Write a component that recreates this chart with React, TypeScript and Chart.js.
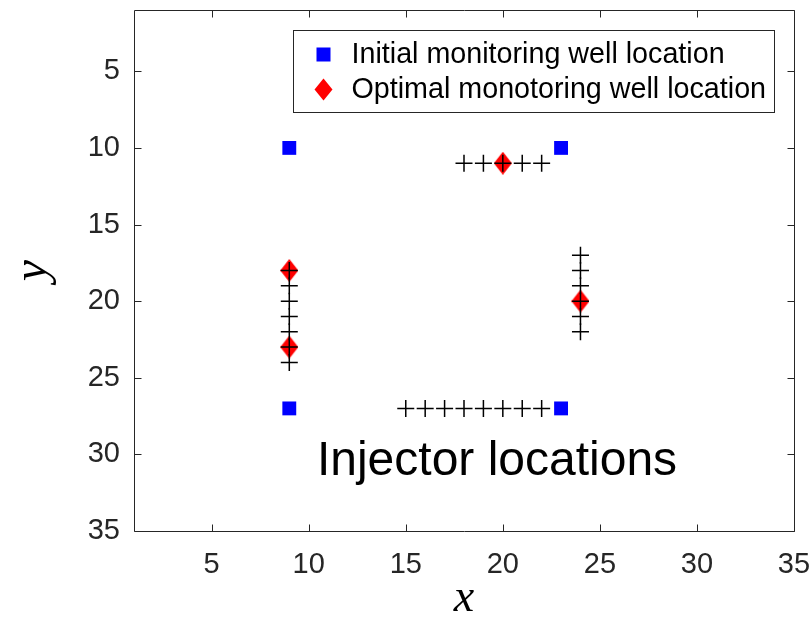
import React, { useEffect, useRef } from "react";
import { Chart, registerables } from "chart.js";

Chart.register(...registerables);

// Axis setup (both axes span 1..35, y grows downward)
const axisMin = 1;
const axisMax = 35;
const xTickValues = [5, 10, 15, 20, 25, 30, 35];
const yTickValues = [5, 10, 15, 20, 25, 30, 35];

// Initial monitoring wells
const initialX = [9, 23, 9, 23];
const initialY = [10, 10, 27, 27];

// Optimal monitoring wells
const optimalX = [20, 9, 9, 24];
const optimalY = [11, 18, 23, 20];

// Injector wells
const injectorX = [
  18, 19, 20, 21, 22,
  9, 9, 9, 9, 9, 9, 9,
  24, 24, 24, 24, 24, 24,
  15, 16, 17, 18, 19, 20, 21, 22,
];
const injectorY = [
  11, 11, 11, 11, 11,
  18, 19, 20, 21, 22, 23, 24,
  17, 18, 19, 20, 21, 22,
  27, 27, 27, 27, 27, 27, 27, 27,
];

const legendLabels = [
  "Initial monitoring well location",
  "Optimal monotoring well location",
];
const annotationText = "Injector locations";
const annotationAt = { x: 19.7, y: 30.5 };

const AXIS_COLOR = "#262626";
const SANS = "'Liberation Sans', Arial, Helvetica, sans-serif";
const SERIF = "'Liberation Serif', 'Times New Roman', serif";
const BLUE = "#0000ff";
const RED = "#ff0000";

function toPoints(xs: number[], ys: number[]) {
  return xs.map((x, i) => ({ x, y: ys[i] }));
}

function makeDiamond(w: number, h: number, color: string) {
  const c = document.createElement("canvas");
  c.width = w;
  c.height = h;
  const g = c.getContext("2d")!;
  g.fillStyle = color;
  g.beginPath();
  g.moveTo(w / 2, 0);
  g.lineTo(w, h / 2);
  g.lineTo(w / 2, h);
  g.lineTo(0, h / 2);
  g.closePath();
  g.fill();
  return c;
}

// Axes box with inward ticks, the inset legend and the text label
const decorations = {
  id: "decorations",
  afterDraw(chart: any) {
    const { ctx, chartArea, scales } = chart;
    const { left, right, top, bottom } = chartArea;
    const xs = scales.x;
    const ys = scales.y;
    const tickLen = 7;

    ctx.save();
    ctx.strokeStyle = AXIS_COLOR;
    ctx.lineWidth = 1;
    const L = Math.round(left) + 0.5;
    const R = Math.round(right) + 0.5;
    const T = Math.round(top) + 0.5;
    const B = Math.round(bottom) + 0.5;
    ctx.beginPath();
    ctx.rect(L, T, R - L, B - T);
    ctx.stroke();

    ctx.beginPath();
    for (const v of xTickValues) {
      const px = Math.round(xs.getPixelForValue(v)) + 0.5;
      ctx.moveTo(px, B);
      ctx.lineTo(px, B - tickLen);
      ctx.moveTo(px, T);
      ctx.lineTo(px, T + tickLen);
    }
    for (const v of yTickValues) {
      const py = Math.round(ys.getPixelForValue(v)) + 0.5;
      ctx.moveTo(L, py);
      ctx.lineTo(L + tickLen, py);
      ctx.moveTo(R, py);
      ctx.lineTo(R - tickLen, py);
    }
    ctx.stroke();

    // annotation text
    ctx.fillStyle = "#000";
    ctx.font = `48px ${SANS}`;
    ctx.textAlign = "center";
    ctx.textBaseline = "middle";
    ctx.fillText(
      annotationText,
      xs.getPixelForValue(annotationAt.x),
      ys.getPixelForValue(annotationAt.y)
    );

    // legend box
    const bx = Math.round(left + 159) + 0.5;
    const by = Math.round(top + 20) + 0.5;
    const bw = 481;
    const bh = 82;
    ctx.fillStyle = "#fff";
    ctx.fillRect(bx, by, bw, bh);
    ctx.strokeStyle = AXIS_COLOR;
    ctx.strokeRect(bx, by, bw, bh);

    const markerX = bx + 30;
    const textX = bx + 58;
    const row1 = by + 24;
    const row2 = by + 59;

    ctx.fillStyle = BLUE;
    ctx.fillRect(markerX - 7, row1 - 7, 14, 14);

    ctx.fillStyle = RED;
    ctx.beginPath();
    ctx.moveTo(markerX, row2 - 11);
    ctx.lineTo(markerX + 9, row2);
    ctx.lineTo(markerX, row2 + 11);
    ctx.lineTo(markerX - 9, row2);
    ctx.closePath();
    ctx.fill();

    ctx.fillStyle = "#000";
    ctx.font = `28.7px ${SANS}`;
    ctx.textAlign = "left";
    ctx.textBaseline = "middle";
    ctx.fillText(legendLabels[0], textX, row1 + 1);
    ctx.fillText(legendLabels[1], textX, row2 + 1);
    ctx.restore();
  },
};

export default function App() {
  const canvasRef = useRef<HTMLCanvasElement>(null);

  useEffect(() => {
    const canvas = canvasRef.current;
    if (!canvas) return;
    const diamond = makeDiamond(18, 23, RED);

    const chart = new Chart(canvas, {
      type: "scatter",
      data: {
        datasets: [
          {
            label: "Injector locations",
            data: toPoints(injectorX, injectorY),
            pointStyle: "cross",
            pointRadius: 8.5,
            borderColor: "#000",
            backgroundColor: "#000",
            borderWidth: 1.5,
            order: 0,
          },
          {
            label: legendLabels[1],
            data: toPoints(optimalX, optimalY),
            pointStyle: diamond as any,
            order: 1,
          },
          {
            label: legendLabels[0],
            data: toPoints(initialX, initialY),
            pointStyle: "rect",
            pointRadius: 9.8,
            backgroundColor: BLUE,
            borderColor: BLUE,
            borderWidth: 0,
            order: 2,
          },
        ],
      },
      options: {
        responsive: false,
        animation: false,
        layout: { padding: { left: 0, right: 17, top: 10, bottom: 0 } },
        plugins: {
          legend: { display: false },
          tooltip: { enabled: false },
        },
        scales: {
          x: {
            type: "linear",
            min: axisMin,
            max: axisMax,
            grid: { display: false, drawTicks: false },
            border: { display: false },
            afterBuildTicks: (s: any) => {
              s.ticks = xTickValues.map((value) => ({ value }));
            },
            afterFit: (s: any) => {
              s.height = 96;
              s.paddingLeft = 0;
              s.paddingRight = 0;
            },
            ticks: {
              color: AXIS_COLOR,
              font: { family: SANS, size: 29 },
              padding: 17,
              maxRotation: 0,
              autoSkip: false,
            },
            title: {
              display: true,
              text: "x",
              color: "#000",
              font: { family: SERIF, size: 46, style: "italic" },
              padding: { top: 0, bottom: 0 },
            },
          },
          y: {
            type: "linear",
            reverse: true,
            min: axisMin,
            max: axisMax,
            grid: { display: false, drawTicks: false },
            border: { display: false },
            afterBuildTicks: (s: any) => {
              s.ticks = yTickValues.map((value) => ({ value }));
            },
            afterFit: (s: any) => {
              s.width = 134;
              s.paddingTop = 0;
              s.paddingBottom = 0;
            },
            ticks: {
              color: AXIS_COLOR,
              font: { family: SANS, size: 29 },
              padding: 14,
              autoSkip: false,
            },
            title: {
              display: true,
              text: "y",
              color: "#000",
              font: { family: SERIF, size: 48, style: "italic" },
              padding: { top: 5, bottom: 0 },
            },
          },
        },
      },
      plugins: [decorations],
    });

    return () => chart.destroy();
  }, []);

  return (
    <div style={{ position: "absolute", left: 0, top: 0, width: 811, height: 627, background: "#fff" }}>
      <canvas ref={canvasRef} width={811} height={627} style={{ display: "block" }} />
    </div>
  );
}
